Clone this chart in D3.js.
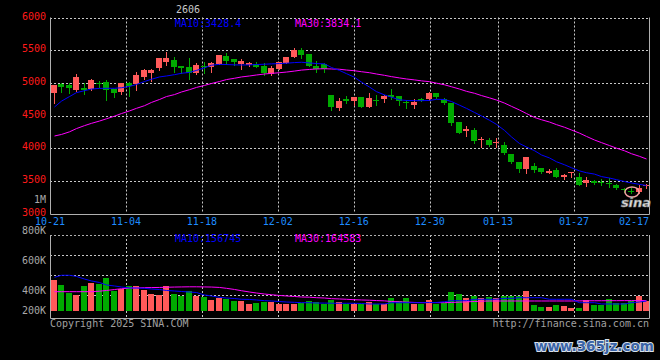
<!DOCTYPE html>
<html><head><meta charset="utf-8">
<script src="https://cdn.jsdelivr.net/npm/d3@7"></script>
<style>html,body{margin:0;padding:0;background:#000;}svg{display:block}</style>
</head><body><svg id="c" width="660" height="360"></svg>
<script>
const dates = ["10-21","10-22","10-23","10-24","10-25","10-28","10-29","10-30","10-31","11-01",
"11-04","11-05","11-06","11-07","11-08","11-11","11-12","11-13","11-14","11-15",
"11-18","11-19","11-20","11-21","11-22","11-25","11-26","11-27","11-28","11-29",
"12-02","12-03","12-04","12-05","12-06","12-09","12-10","12-11","12-12","12-13",
"12-16","12-17","12-18","12-19","12-20","12-23","12-24","12-25","12-26","12-27",
"12-30","12-31","01-02","01-03","01-06","01-07","01-08","01-09","01-10","01-13",
"01-14","01-15","01-16","01-17","01-20","01-21","01-22","01-23","01-24","01-27",
"01-28","02-05","02-06","02-07","02-10","02-11","02-12","02-13","02-14","02-17"];
const openP = [4840,4982,4967,4890,4927,4901,4998,5018,4906,4865,5003,4978,5094,5156,5232,5324,5350,5258,5248,5145,
5258,5237,5288,5411,5365,5288,5273,5288,5258,5135,5207,5309,5390,5503,5441,5258,5283,4814,4610,4747,
4727,4788,4625,4742,4753,4814,4798,4712,4661,4753,4747,4839,4747,4696,4406,4268,4278,4125,4125,4074,
4049,3906,3793,3676,3727,3691,3625,3666,3553,3615,3564,3462,3497,3487,3462,3436,3375,3350,3334,3421];
const highP = [4967,4993,5003,5140,4993,5059,5033,5044,4906,4993,5010,5171,5212,5215,5385,5467,5390,5260,5375,5299,
5324,5324,5426,5462,5365,5365,5319,5324,5309,5258,5319,5401,5528,5528,5441,5339,5299,4814,4763,4798,
4778,4788,4839,4814,4814,4901,4798,4737,4747,4763,4855,4849,4763,4696,4406,4339,4304,4166,4150,4150,
4100,3906,3793,3860,3768,3691,3676,3691,3599,3640,3615,3564,3513,3523,3538,3446,3395,3385,3436,3446];
const lowP = [4696,4865,4850,4880,4829,4890,4942,4737,4788,4829,4799,4890,5054,5030,5196,5273,5171,5156,5054,5140,
5145,5171,5288,5288,5273,5212,5258,5237,5120,5120,5207,5299,5390,5375,5258,5171,5171,4584,4584,4696,
4661,4635,4625,4661,4712,4747,4661,4610,4620,4722,4737,4763,4676,4355,4237,4186,4084,4023,4038,4023,
3906,3768,3640,3625,3640,3625,3625,3553,3523,3564,3436,3421,3451,3436,3411,3370,3334,3309,3319,3385];
const closeP = [4967,4942,4916,5089,4891,5044,4988,4891,4850,4993,4952,5125,5196,5200,5385,5385,5237,5222,5156,5273,
5238,5309,5426,5339,5324,5339,5309,5248,5145,5232,5319,5401,5503,5426,5258,5207,5212,4635,4722,4717,
4778,4635,4763,4732,4798,4778,4727,4686,4712,4727,4839,4788,4696,4390,4237,4288,4110,4145,4048,4100,
3921,3793,3681,3860,3666,3640,3656,3564,3589,3640,3436,3513,3472,3477,3452,3385,3365,3340,3385,3431];
const ma10 = [4630,4720,4790,4850,4880,4905,4915,4916,4916,4925,4945,4975,5020,5055,5090,5105,5125,5146,5160,5190,
5230,5270,5283,5280,5275,5273,5275,5280,5285,5290,5295,5300,5310,5315,5305,5295,5290,5235,5190,5140,
5085,5010,4935,4865,4815,4780,4740,4730,4727,4727,4730,4748,4745,4714,4658,4609,4547,4493,4427,4364,
4272,4172,4071,4018,3961,3896,3850,3792,3746,3700,3652,3624,3603,3565,3543,3518,3489,3467,3446,3428.4];
const ma30 = [4186,4210,4250,4300,4345,4380,4415,4450,4490,4530,4570,4610,4650,4700,4745,4790,4820,4860,4895,4930,
4960,4990,5020,5050,5070,5090,5105,5120,5135,5145,5155,5165,5180,5195,5205,5212,5216,5212,5208,5196,
5185,5170,5155,5135,5115,5095,5075,5059,5045,5030,5018,4995,4970,4940,4905,4870,4840,4805,4770,4737,
4690,4640,4584,4530,4470,4435,4400,4360,4320,4278,4230,4180,4125,4085,4040,4000,3960,3915,3875,3834.1];
const volume = [489000,407000,287000,249000,395000,445000,429000,521000,319000,355000,
395000,395000,335000,265000,249000,395000,265000,234000,313000,234000,
224000,171000,202000,182000,155000,155000,107000,129000,142000,142000,
107000,107000,107000,131000,153000,137000,115000,169000,142000,106000,
106000,106000,147000,106000,106000,210000,158000,210000,106000,106000,
174000,106000,122000,305000,268000,200000,237000,210000,226000,200000,
237000,237000,237000,316000,95000,68000,68000,95000,79000,52000,
52000,174000,95000,95000,189000,131000,131000,158000,237000,158000];
const volMa10 = [532000,564000,564000,545000,505000,474000,450000,411000,395000,379000,
363000,363000,358000,347000,339000,324000,316000,308000,300000,292000,
253000,237000,216000,205000,197000,185000,182000,174000,163000,158000,
150000,142000,137000,131000,131000,126000,125000,123000,122000,122000,
122000,118000,111000,111000,111000,131000,131000,131000,131000,131000,
134000,134000,147000,163000,163000,163000,185000,185000,185000,185000,
200000,200000,210000,210000,210000,210000,185000,185000,185000,185000,
131000,131000,131000,111000,111000,111000,111000,131000,142000,156745];
const volMa30 = [305000,305000,305000,305000,305000,305000,313000,324000,339000,352000,
362000,365000,368000,370000,372000,375000,378000,380000,382000,382000,
380000,378000,372000,358000,340000,320000,300000,284000,268000,257000,
245000,237000,229000,221000,218000,210000,205000,195000,190000,185000,
178000,174000,170000,165000,160000,150000,145000,140000,135000,132000,
132000,132000,131000,135000,140000,145000,150000,155000,158000,158000,
158000,158000,158000,158000,158000,158000,158000,158000,158000,158000,
160000,161000,162000,162000,163000,163000,164000,164000,164500,164583];
const priceTicks = [6000,5500,5000,4500,4000,3500,3000];
const dateTicks = ["10-21","11-04","11-18","12-02","12-16","12-30","01-13","01-27","02-17"];
const volTicks = [800000,600000,400000,200000];
const volTickText = ["800K","600K","400K","200K"];
const titleText = "2606";

const RED = "#ff5a5a", GREEN = "#00aa00", BLUE = "#0000ff", MAG = "#ff00ff";
const GRID = "#c8c8c8", FRAME = "#b0b0b0";
const FONT = "'DejaVu Sans Mono', 'Liberation Mono', monospace";
const L = 50, R = 650;
const svg = d3.select("#c");
svg.append("rect").attr("width",660).attr("height",360).attr("fill","#000");

const idx = d3.range(dates.length);
const xb = d3.scaleBand().domain(idx).range([L, R]).paddingInner(0.2).paddingOuter(0.1);
const xc = i => Math.round(xb(i)) + 3;
const xg = d3.scaleLinear().domain([0, dates.length - 1]).range([L, R]);
const y = d3.scaleLinear().domain([3000, 6000]).range([213.5, 17.5]);
const yv = d3.scaleLinear().domain([0, 1200000]).range([311, 235]);
const yvLab = d3.scaleLinear().domain([800000, 400000]).range([234, 294]);

const g = svg.append("g").attr("font-family", FONT).attr("font-size", 10);

// price grid
const gp = g.append("g");
priceTicks.filter(v => v !== 3000).forEach(v => {
  gp.append("line").attr("x1", L).attr("x2", R - 1).attr("y1", Math.round(y(v)) + 0.5).attr("y2", Math.round(y(v)) + 0.5)
    .attr("stroke", GRID).attr("stroke-dasharray", "2,2");
});
const tickIdx = dateTicks.map(d => dates.indexOf(d));
tickIdx.slice(1, -1).forEach(i => {
  const xx = Math.round(xg(i)) + 0.5;
  gp.append("line").attr("x1", xx).attr("x2", xx).attr("y1", y(6000)).attr("y2", y(3000))
    .attr("stroke", GRID).attr("stroke-dasharray", "2,2");
  gp.append("line").attr("x1", xx).attr("x2", xx).attr("y1", 235).attr("y2", 318)
    .attr("stroke", GRID).attr("stroke-dasharray", "2,2");
});
// volume grid
const gvLines = d3.scaleLinear().domain([0, 4]).range([235, 315]);
[1, 2, 3].forEach(k => {
  gp.append("line").attr("x1", L).attr("x2", R - 1).attr("y1", gvLines(k) + 0.5).attr("y2", gvLines(k) + 0.5)
    .attr("stroke", GRID).attr("stroke-dasharray", "2,2");
});
gp.append("line").attr("x1", L).attr("x2", R - 1).attr("y1", 235.5).attr("y2", 235.5)
  .attr("stroke", FRAME).attr("stroke-dasharray", "2,2");

// frames
const fr = g.append("g").attr("stroke", FRAME).attr("fill", "none");
fr.append("path").attr("d", `M${L+0.5},${y(6000)}V${Math.round(y(3000))+0.5}H${R-0.5}V${y(6000)}`);
fr.append("path").attr("d", `M${L+0.5},235V318.5H${R-0.5}V235`);

// candles
const cg = g.append("g");
idx.forEach(i => {
  const up = closeP[i] >= openP[i];
  const col = up ? RED : GREEN;
  const cx = xc(i) + 0.5;
  cg.append("line").attr("x1", cx).attr("x2", cx).attr("y1", Math.round(y(highP[i]))).attr("y2", Math.round(y(lowP[i])) + 1)
    .attr("stroke", col);
  const top = Math.round(y(Math.max(openP[i], closeP[i])));
  const bot = Math.round(y(Math.min(openP[i], closeP[i])));
  cg.append("rect").attr("x", Math.round(xb(i))).attr("y", top).attr("width", xb.bandwidth())
    .attr("height", Math.max(1, bot - top)).attr("fill", col);
});

// MA lines price
const lineP = d3.line().x((d, i) => xc(i) + 0.5).y(d => y(d));
g.append("path").attr("d", lineP(ma30)).attr("fill", "none").attr("stroke", MAG).attr("stroke-width", 1);
g.append("path").attr("d", lineP(ma10)).attr("fill", "none").attr("stroke", BLUE).attr("stroke-width", 1);

// volume bars
idx.forEach(i => {
  const up = closeP[i] >= openP[i];
  cg.append("rect").attr("x", Math.round(xb(i))).attr("y", Math.round(yv(volume[i])))
    .attr("width", xb.bandwidth()).attr("height", Math.round(yv(0)) - Math.round(yv(volume[i])))
    .attr("fill", up ? RED : GREEN);
});
const lineV = d3.line().x((d, i) => xc(i) + 0.5).y(d => yv(d));
g.append("path").attr("d", lineV(volMa30)).attr("fill", "none").attr("stroke", MAG).attr("stroke-width", 1);
g.append("path").attr("d", lineV(volMa10)).attr("fill", "none").attr("stroke", BLUE).attr("stroke-width", 1);

// price labels
priceTicks.forEach(v => {
  g.append("text").attr("x", 46).attr("y", y(v) + 2).attr("text-anchor", "end").attr("fill", "#ff1a1a").text(v);
});
g.append("text").attr("x", 46).attr("y", 203).attr("text-anchor", "end").attr("fill", "#a8a8a8").text("1M");
// date labels
dateTicks.forEach((d, k) => {
  const xx = xg(tickIdx[k]);
  const last = k === dateTicks.length - 1;
  g.append("text").attr("x", last ? R - 1 : xx).attr("y", 224.5).attr("text-anchor", last ? "end" : "middle")
    .attr("fill", "#1e8cff").text(d);
});
// volume labels
volTicks.forEach((v, k) => {
  g.append("text").attr("x", 46).attr("y", Math.min(314, yvLab(v))).attr("text-anchor", "end")
    .attr("fill", "#a8a8a8").text(volTickText[k]);
});
// legends
g.append("text").attr("x", 175).attr("y", 26.5).attr("fill", BLUE).text("MA10:" + ma10[ma10.length - 1].toFixed(1));
g.append("text").attr("x", 295).attr("y", 26.5).attr("fill", MAG).text("MA30:" + ma30[ma30.length - 1].toFixed(1));
g.append("text").attr("x", 175).attr("y", 241.5).attr("fill", BLUE).text("MA10:" + volMa10[volMa10.length - 1]);
g.append("text").attr("x", 295).attr("y", 241.5).attr("fill", MAG).text("MA30:" + volMa30[volMa30.length - 1]);
g.append("text").attr("x", 188).attr("y", 13).attr("text-anchor", "middle").attr("fill", "#c8c8c8").text(titleText);
g.append("text").attr("x", 50).attr("y", 327).attr("fill", "#a0a0a0").text("Copyright 2025 SINA.COM");
g.append("text").attr("x", 649).attr("y", 327).attr("text-anchor", "end").attr("fill", "#a0a0a0").text("http://finance.sina.com.cn");

// sina logo
const lg = svg.append("g");
lg.append("ellipse").attr("cx", 632).attr("cy", 192).attr("rx", 7).attr("ry", 5).attr("fill", "none").attr("stroke", "#f0a0a0").attr("stroke-width", 1.5);
lg.append("text").attr("x", 636).attr("y", 207).attr("text-anchor", "middle").attr("font-family", "'DejaVu Sans', sans-serif")
  .attr("font-size", 13).attr("font-weight", "bold").attr("font-style", "italic").attr("fill", "#e0e0e0")
  .attr("stroke", "#808080").attr("stroke-width", 0.6).text("sina");
// watermark
svg.append("text").attr("x", 535).attr("y", 351).attr("font-family", "'DejaVu Sans', sans-serif")
  .attr("font-size", 13.5).attr("font-weight", "bold").attr("fill", "#3a64a8").attr("stroke", "#d8e0ea").attr("stroke-width", 2)
  .attr("paint-order", "stroke").text("www.365jz.com");
</script></body></html>
